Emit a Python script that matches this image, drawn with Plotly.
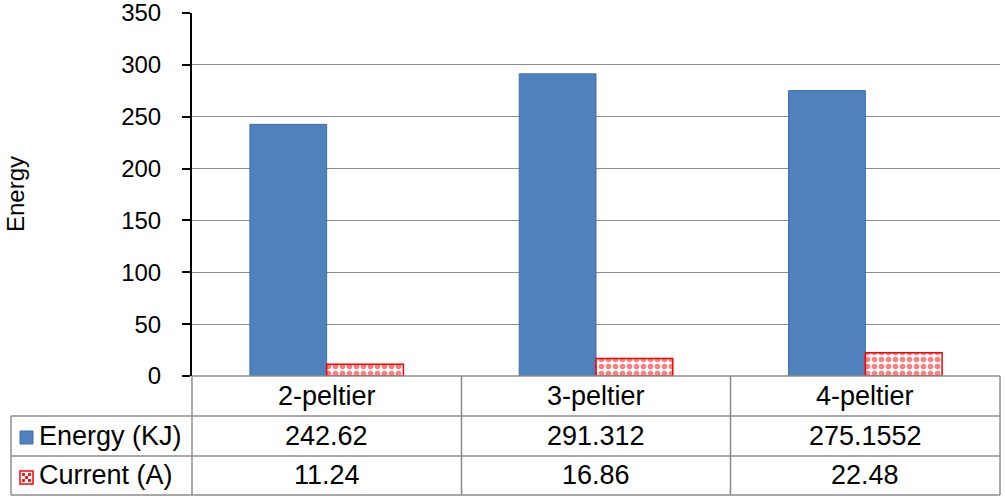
import plotly.graph_objects as go

categories = ["2-peltier", "3-peltier", "4-peltier"]
energy = [242.62, 291.312, 275.1552]
current = [11.24, 16.86, 22.48]
energy_labels = ["242.62", "291.312", "275.1552"]
current_labels = ["11.24", "16.86", "22.48"]
row_names = ["Energy (KJ)", "Current (A)"]
yticks = [0, 50, 100, 150, 200, 250, 300, 350]

W, H = 1005, 499
L, R, T, B = 192, 5, 13, 123
ph = H - T - B  # plot height in px
pw = W - L - R


def py(y):
    # pixel row -> paper y
    return (H - B - y) / ph


def px(x):
    # pixel column -> paper x
    return (x - L) / pw


FONT = "Liberation Sans, Arial, sans-serif"
FS = 27
TICKFS = 24
GRID = "#8c8c8c"
TBL = "#8c8c8c"

fig = go.Figure()
fig.add_trace(go.Bar(x=categories, y=energy, name=row_names[0],
                     marker=dict(color="#4f81bd", line=dict(color="#3e6ea8", width=1))))
fig.add_trace(go.Bar(x=categories, y=current, name=row_names[1],
                     marker=dict(color="white", line=dict(color="#ff0000", width=1.5),
                                 pattern=dict(shape=".", fgcolor="#ff0000", bgcolor="white",
                                              size=7, solidity=0.5, fillmode="overlay"))))

fig.update_layout(
    width=W, height=H,
    margin=dict(l=L, r=R, t=T, b=B, pad=0),
    paper_bgcolor="white", plot_bgcolor="white",
    barmode="group", bargap=0.43, bargroupgap=0,
    showlegend=False,
    font=dict(family=FONT, size=FS, color="black"),
)
fig.update_xaxes(showticklabels=False, showgrid=False, zeroline=False, showline=False,
                 range=[-0.5, 2.5], automargin=False)
fig.update_yaxes(range=[0, 350], tickvals=yticks, showgrid=True, gridcolor=GRID, gridwidth=1,
                 zeroline=False, showline=True, linecolor="black", linewidth=2,
                 ticks="outside", ticklen=8, tickwidth=2, tickcolor="black",
                 tickfont=dict(family=FONT, size=TICKFS), ticklabelstandoff=16,
                 ticklabeloverflow="allow", automargin=False)

# data table below the plot
shapes = []
row_y = [376, 416, 456, 495]
col_x = [192, 461.5, 730.5, 1000]
left_x = 11


def hline(y, x0, x1):
    shapes.append(dict(type="line", xref="paper", yref="paper", x0=px(x0), x1=px(x1),
                       y0=py(y), y1=py(y), line=dict(color=TBL, width=1.5)))


def vline(x, y0, y1):
    shapes.append(dict(type="line", xref="paper", yref="paper", x0=px(x), x1=px(x),
                       y0=py(y0), y1=py(y1), line=dict(color=TBL, width=1.5)))


hline(row_y[0], col_x[0], col_x[-1])
for y in row_y[1:]:
    hline(y, left_x, col_x[-1])
for x in col_x[1:]:
    vline(x, row_y[0], row_y[-1])
vline(col_x[0], row_y[0], row_y[-1])
vline(left_x, row_y[1], row_y[-1])

# legend keys
shapes.append(dict(type="rect", xref="paper", yref="paper", x0=px(20), x1=px(33),
                   y0=py(444), y1=py(431), fillcolor="#4f81bd", line=dict(color="#3e6ea8", width=1)))
shapes.append(dict(type="rect", xref="paper", yref="paper", x0=px(20), x1=px(33),
                   y0=py(484), y1=py(471), fillcolor="white", line=dict(color="#ff0000", width=1.5)))
for dx, dy in [(23.5, 474.5), (29.5, 474.5), (26.5, 477.5), (23.5, 480.5), (29.5, 480.5)]:
    shapes.append(dict(type="rect", xref="paper", yref="paper", x0=px(dx - 1.4), x1=px(dx + 1.4),
                       y0=py(dy + 1.4), y1=py(dy - 1.4), fillcolor="#ff0000", line=dict(width=0)))

annotations = []
for i, c in enumerate(categories):
    cx = (col_x[i] + col_x[i + 1]) / 2
    for text, y in [(c, 396), (energy_labels[i], 436), (current_labels[i], 475)]:
        annotations.append(dict(text=text, xref="paper", yref="paper", x=px(cx), y=py(y),
                                showarrow=False, xanchor="center", yanchor="middle",
                                font=dict(family=FONT, size=FS, color="black")))
for name, y in zip(row_names, [436, 475]):
    annotations.append(dict(text=name, xref="paper", yref="paper", x=px(37), y=py(y),
                            showarrow=False, xanchor="left", yanchor="middle",
                            font=dict(family=FONT, size=FS, color="black")))
# y axis title
annotations.append(dict(text="Energy", xref="paper", yref="paper", x=px(15), y=py(194),
                        showarrow=False, xanchor="center", yanchor="middle", textangle=-90,
                        font=dict(family=FONT, size=TICKFS, color="black")))

fig.update_layout(shapes=shapes, annotations=annotations)
fig.write_html("out.html", config={"displayModeBar": False},
               post_script="document.body.style.margin='0';document.body.style.overflow='hidden';")
